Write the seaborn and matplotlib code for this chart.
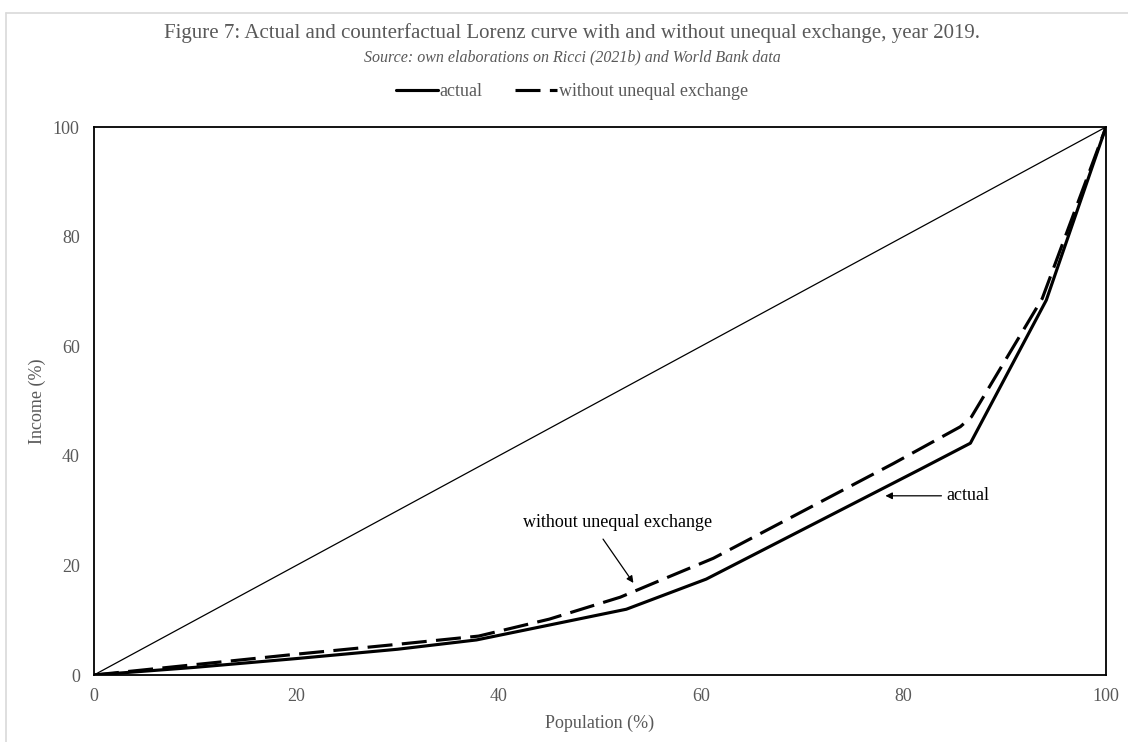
import matplotlib
matplotlib.use("Agg")
import matplotlib.pyplot as plt
import seaborn as sns
import pandas as pd
from matplotlib.lines import Line2D

# ---- data ----
actual_x = [0, 10, 20, 30, 37.8, 43.1, 52.6, 60.5, 70.1, 81.6, 86.6, 94.1, 100]
actual_y = [0, 1.4, 3.0, 4.7, 6.4, 8.4, 12.0, 17.5, 26.6, 37.5, 42.3, 68.4, 100]

counter_x = [0, 10, 20, 30, 38, 45, 52, 56, 61.2, 68.1, 79, 85.6, 86.7, 93.7, 100]
counter_y = [0, 1.9, 3.8, 5.6, 7.1, 10.2, 14.2, 17.3, 21.3, 28.0, 38.6, 45.3, 47.1, 68.7, 100]

equality_x = [0, 100]
equality_y = [0, 100]

x_ticks = [0, 20, 40, 60, 80, 100]
y_ticks = [0, 20, 40, 60, 80, 100]

title = "Figure 7: Actual and counterfactual Lorenz curve with and without unequal exchange, year 2019."
subtitle = "Source: own elaborations on Ricci (2021b) and World Bank data"
series_names = ["actual", "without unequal exchange"]

# ---- style ----
sns.set_theme(style="white")
plt.rcParams["font.family"] = ["Liberation Serif", "DejaVu Serif"]
GRAY = "#595959"

W, H = 1128, 742
fig = plt.figure(figsize=(W / 100, H / 100), dpi=100)
left, right, top, bottom = 94, 1106, 127, 675
ax = fig.add_axes([left / W, 1 - bottom / H, (right - left) / W, (bottom - top) / H])

df_a = pd.DataFrame({"x": actual_x, "y": actual_y})
df_c = pd.DataFrame({"x": counter_x, "y": counter_y})
df_e = pd.DataFrame({"x": equality_x, "y": equality_y})

sns.lineplot(data=df_e, x="x", y="y", ax=ax, color="black", linewidth=0.9,
             estimator=None, sort=False)
sns.lineplot(data=df_a, x="x", y="y", ax=ax, color="black", linewidth=2.25,
             estimator=None, sort=False)
sns.lineplot(data=df_c, x="x", y="y", ax=ax, color="black", linewidth=2.25,
             estimator=None, sort=False)
ax.lines[2].set_dashes((8, 3))
ax.lines[2].set_dash_capstyle("butt")

ax.set_xlim(0, 100)
ax.set_ylim(0, 100)
ax.set_xticks(x_ticks)
ax.set_yticks(y_ticks)
ax.tick_params(axis="both", direction="inout", length=7.5, width=1.2,
               colors="black", labelcolor=GRAY, labelsize=13)
ax.tick_params(axis="x", pad=5.5)
ax.tick_params(axis="y", pad=6.5)
for s in ax.spines.values():
    s.set_color("black")
    s.set_linewidth(1.3)
ax.set_xlabel("Population (%)", color=GRAY, fontsize=13, labelpad=7)
ax.set_ylabel("Income (%)", color=GRAY, fontsize=13, labelpad=5)

# annotations
ax.text(51.7, 27.9, series_names[1], ha="center", va="center", fontsize=13,
        color="black")
ax.annotate("", xy=(53.3, 16.8), xytext=(50.3, 24.8),
            arrowprops=dict(arrowstyle="-|>", color="black", lw=0.9,
                            shrinkA=0, shrinkB=0, mutation_scale=10))
ax.annotate(series_names[0], xy=(78.2, 32.7), xytext=(84.2, 32.7),
            ha="left", va="center", fontsize=13, color="black",
            arrowprops=dict(arrowstyle="-|>", color="black", lw=0.9,
                            shrinkA=1, shrinkB=0, mutation_scale=10))

# titles
CX = 572 / W
fig.text(CX, 1 - 33 / H, title, ha="center", va="center", fontsize=15, color=GRAY)
fig.text(CX, 1 - 57 / H, subtitle, ha="center", va="center", fontsize=11.5,
         style="italic", color=GRAY)

# legend
handles = [Line2D([], [], color="black", lw=2.25),
           Line2D([], [], color="black", lw=2.25, dashes=(8, 3))]
fig.legend(handles, series_names, loc="center", ncol=2, frameon=False,
           bbox_to_anchor=(CX, 1 - 92 / H), fontsize=13, handlelength=2.3,
           handletextpad=0.1, columnspacing=1.8, labelcolor=GRAY)

# chart-area border (top and left visible)
fig.add_artist(Line2D([6 / W, 6 / W], [0, 1 - 13 / H], transform=fig.transFigure,
                      color="#d9d9d9", lw=1.2))
fig.add_artist(Line2D([6 / W, 1], [1 - 13 / H, 1 - 13 / H], transform=fig.transFigure,
                      color="#d9d9d9", lw=1.2))

fig.savefig("out.png", dpi=100, facecolor="white")
